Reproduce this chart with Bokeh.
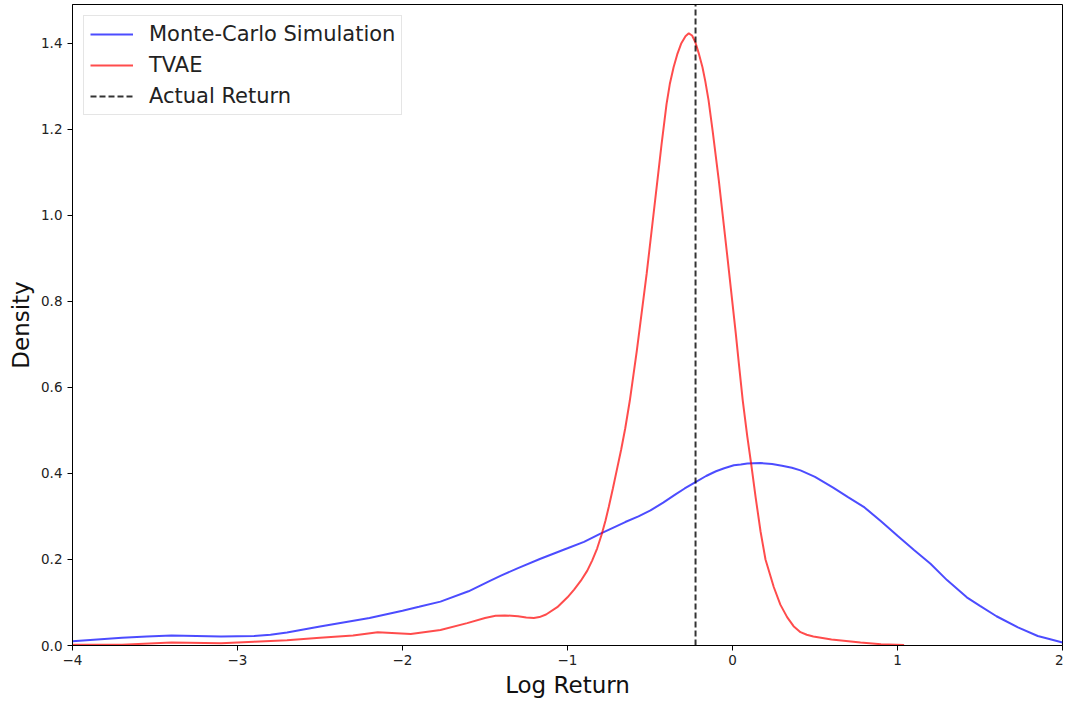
from bokeh.plotting import figure
from bokeh.models import Range1d, FixedTicker, Legend, LegendItem
from bokeh.embed import file_html
from bokeh.resources import INLINE

# Monte-Carlo Simulation density
mc_x = [-4.0, -3.7, -3.55, -3.4, -3.25, -3.1, -2.9, -2.8, -2.7, -2.6, -2.5, -2.35, -2.2,
        -2.0, -1.9, -1.77, -1.6, -1.467, -1.4, -1.3, -1.164, -1.0, -0.9, -0.8, -0.65,
        -0.57, -0.497, -0.42, -0.35, -0.29, -0.224, -0.16, -0.1, -0.05, 0.008, 0.05,
        0.09, 0.17, 0.24, 0.3, 0.36, 0.412, 0.5, 0.61, 0.7, 0.8, 0.9, 1.0, 1.1, 1.2,
        1.3, 1.42, 1.5, 1.6, 1.73, 1.85, 1.92, 2.0]
mc_y = [0.010, 0.018, 0.021, 0.023, 0.022, 0.021, 0.022, 0.025, 0.030, 0.037, 0.044, 0.054,
        0.064, 0.081, 0.090, 0.102, 0.126, 0.151, 0.163, 0.180, 0.2016, 0.226, 0.241, 0.260,
        0.287, 0.300, 0.314, 0.332, 0.350, 0.365, 0.380, 0.394, 0.405, 0.412, 0.419, 0.421,
        0.423, 0.424, 0.422, 0.418, 0.413, 0.407, 0.392, 0.367, 0.345, 0.321, 0.289, 0.255,
        0.222, 0.190, 0.152, 0.112, 0.092, 0.068, 0.042, 0.022, 0.015, 0.007]

# TVAE density
tvae_x = [-4.0, -3.7, -3.4, -3.1, -2.9, -2.7, -2.5, -2.3, -2.15, -1.95, -1.77, -1.608,
          -1.5, -1.436, -1.38, -1.3, -1.25, -1.204, -1.17, -1.13, -1.062, -1.0, -0.96,
          -0.92, -0.88, -0.85, -0.82, -0.793, -0.77, -0.75, -0.725, -0.70, -0.675, -0.65,
          -0.622, -0.58, -0.52, -0.455, -0.43, -0.40, -0.38, -0.357, -0.335, -0.31, -0.285,
          -0.265, -0.245, -0.225, -0.205, -0.182, -0.165, -0.145, -0.12, -0.083, -0.03,
          0.02, 0.04, 0.062, 0.09, 0.113, 0.14, 0.17, 0.2, 0.25, 0.29, 0.331, 0.37, 0.412,
          0.45, 0.49, 0.6, 0.776, 0.9, 1.04]
tvae_y = [0.002, 0.002, 0.007, 0.005, 0.009, 0.012, 0.018, 0.023, 0.031, 0.027, 0.036, 0.052,
          0.064, 0.069, 0.070, 0.068, 0.065, 0.064, 0.066, 0.072, 0.089, 0.112, 0.130,
          0.150, 0.174, 0.198, 0.226, 0.258, 0.290, 0.322, 0.365, 0.410, 0.455, 0.505,
          0.570, 0.685, 0.865, 1.081, 1.165, 1.258, 1.305, 1.344, 1.374, 1.400, 1.416,
          1.423, 1.418, 1.402, 1.377, 1.344, 1.312, 1.267, 1.195, 1.081, 0.900,
          0.725, 0.650, 0.570, 0.485, 0.4225, 0.345, 0.265, 0.200, 0.136, 0.095, 0.066,
          0.045, 0.031, 0.025, 0.021, 0.014, 0.007, 0.003, 0.001]

actual_return = -0.224

x_limits = (-4, 2)
y_limits = (0, 1.49)
x_ticks = [-4, -3, -2, -1, 0, 1, 2]
x_tick_labels = ["\u22124", "\u22123", "\u22122", "\u22121", "0", "1", "2"]
y_ticks = [0.0, 0.2, 0.4, 0.6, 0.8, 1.0, 1.2, 1.4]
y_tick_labels = ["0.0", "0.2", "0.4", "0.6", "0.8", "1.0", "1.2", "1.4"]

FONT = "DejaVu Sans"

p = figure(width=1063, height=700, output_backend="svg", toolbar_location=None,
           x_range=Range1d(*x_limits), y_range=Range1d(*y_limits),
           min_border_left=72, min_border_right=1, min_border_top=4, min_border_bottom=55)

p.grid.visible = False
p.background_fill_color = "white"
p.border_fill_color = "white"
p.outline_line_color = "black"
p.outline_line_width = 1

for ax in (p.xaxis[0], p.yaxis[0]):
    ax.axis_line_color = "black"
    ax.major_tick_line_color = "black"
    ax.major_tick_out = 5
    ax.major_tick_in = 0
    ax.minor_tick_line_color = None
    ax.major_label_text_font = FONT
    ax.major_label_text_font_size = "13.5px"
    ax.major_label_text_color = "#222222"
    ax.axis_label_text_font = FONT
    ax.axis_label_text_font_size = "23px"
    ax.axis_label_text_font_style = "normal"
    ax.axis_label_text_color = "#111111"

p.xaxis.ticker = FixedTicker(ticks=x_ticks)
p.xaxis.major_label_overrides = dict(zip(x_ticks, x_tick_labels))
p.yaxis.ticker = FixedTicker(ticks=y_ticks)
p.yaxis.major_label_overrides = dict(zip(y_ticks, y_tick_labels))
p.xaxis.major_label_standoff = 4
p.yaxis.major_label_standoff = 5
p.xaxis.axis_label = "Log Return"
p.yaxis.axis_label = "Density"
p.xaxis.axis_label_standoff = 4
p.yaxis.axis_label_standoff = 4

r_mc = p.line(mc_x, mc_y, line_color="blue", line_alpha=0.7, line_width=2)
r_tv = p.line(tvae_x, tvae_y, line_color="red", line_alpha=0.7, line_width=2)
r_act = p.line([actual_return, actual_return], [y_limits[0], y_limits[1]],
               line_color="black", line_alpha=0.8, line_width=2, line_dash="6 3")

legend = Legend(items=[LegendItem(label="Monte-Carlo Simulation", renderers=[r_mc]),
                       LegendItem(label="TVAE", renderers=[r_tv]),
                       LegendItem(label="Actual Return", renderers=[r_act])],
                location="top_left")
legend.margin = 11
legend.padding = 6
legend.spacing = 7
legend.glyph_width = 43
legend.glyph_height = 24
legend.label_height = 24
legend.label_standoff = 16
legend.label_text_font = FONT
legend.label_text_font_size = "21px"
legend.label_text_color = "#222222"
legend.border_line_color = "#cccccc"
legend.border_line_width = 1
legend.background_fill_alpha = 0.8
p.add_layout(legend)

open("out.html", "w").write(file_html(p, INLINE))
